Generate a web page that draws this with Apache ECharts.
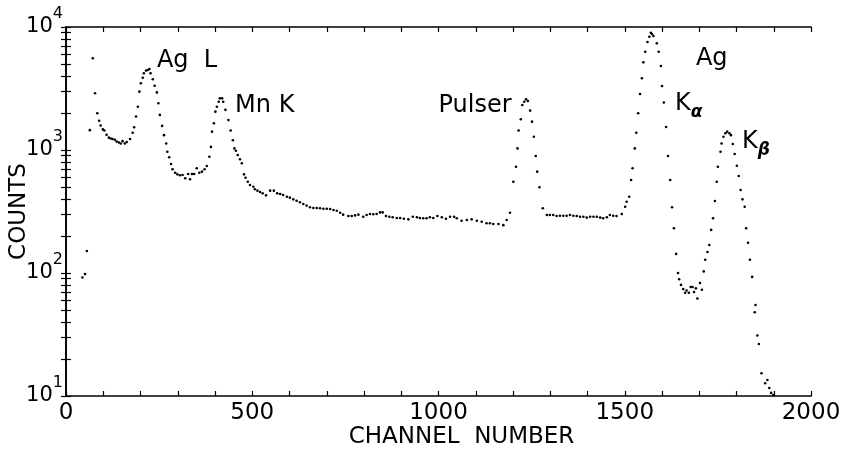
<!DOCTYPE html>
<html>
<head>
<meta charset="utf-8">
<script src="https://cdn.jsdelivr.net/npm/echarts@6/dist/echarts.min.js"></script>
<style>
  html, body { margin: 0; background: #fff; }
  #chart { width: 848px; height: 450px; }
</style>
</head>
<body>
<div id="chart"></div>
<script>
// spectrum: channel number and counts per point
const channel = [44, 51, 56, 64, 72, 78, 84, 89, 93, 99, 103, 109, 115, 120, 125, 131, 136, 142, 147, 152,
  158, 163, 172, 179, 183, 188, 193, 197, 201, 206, 209, 215, 220, 224, 227, 233, 238, 244, 248, 252,
  258, 263, 269, 272, 277, 282, 286, 293, 299, 306, 313, 320, 328, 333, 338, 344, 351, 358, 365, 372,
  378, 385, 389, 392, 397, 401, 405, 410, 413, 419, 422, 428, 436, 442, 448, 452, 456, 461, 467, 472,
  478, 482, 488, 494, 503, 507, 514, 521, 528, 537, 548, 558, 567, 575, 583, 593, 601, 610, 619, 628,
  637, 646, 655, 664, 673, 682, 691, 700, 709, 718, 727, 736, 744, 758, 767, 776, 785, 798, 807, 816,
  825, 834, 843, 850, 859, 868, 877, 888, 897, 907, 919, 931, 942, 950, 959, 968, 977, 986, 997, 1009,
  1020, 1031, 1042, 1049, 1062, 1076, 1089, 1103, 1116, 1129, 1138, 1147, 1161, 1174, 1183, 1192, 1201, 1208, 1212, 1215,
  1221, 1225, 1230, 1235, 1240, 1246, 1251, 1256, 1261, 1265, 1271, 1280, 1291, 1299, 1308, 1317, 1326, 1335, 1344, 1353,
  1362, 1371, 1380, 1389, 1398, 1407, 1416, 1425, 1434, 1442, 1452, 1460, 1469, 1478, 1492, 1501, 1505, 1512, 1517, 1521,
  1527, 1531, 1536, 1541, 1546, 1550, 1555, 1561, 1566, 1570, 1573, 1577, 1586, 1591, 1597, 1600, 1605, 1611, 1616, 1622,
  1627, 1632, 1638, 1643, 1646, 1651, 1657, 1662, 1666, 1672, 1677, 1682, 1686, 1691, 1695, 1702, 1707, 1712, 1716, 1722,
  1727, 1732, 1737, 1742, 1747, 1750, 1757, 1760, 1765, 1770, 1775, 1781, 1785, 1790, 1795, 1801, 1806, 1811, 1816, 1822,
  1826, 1831, 1836, 1842, 1849, 1851, 1856, 1860, 1867, 1877, 1883, 1888, 1893, 1899];
const counts = [92, 98, 151, 1450, 5570, 2890, 1990, 1730, 1580, 1470, 1440, 1330, 1260, 1240, 1230, 1210, 1170, 1150, 1130, 1180,
  1130, 1160, 1230, 1380, 1530, 1870, 2250, 2980, 3490, 3870, 4210, 4420, 4470, 4560, 4210, 3760, 3330, 2940, 2400, 1930,
  1570, 1320, 1130, 968, 873, 769, 697, 654, 634, 623, 626, 589, 638, 578, 638, 638, 710, 654, 667, 697,
  741, 882, 1060, 1410, 1650, 2050, 2250, 2470, 2630, 2630, 2470, 2120, 1750, 1440, 1200, 1030, 986, 911, 840, 780,
  634, 595, 552, 519, 503, 479, 467, 456, 444, 428, 467, 467, 444, 439, 431, 417, 410, 397, 387, 376,
  364, 353, 342, 338, 338, 336, 333, 333, 331, 325, 321, 309, 298, 291, 291, 294, 298, 287, 296, 302,
  300, 302, 311, 311, 291, 287, 284, 280, 280, 276, 273, 287, 284, 280, 279, 279, 284, 280, 291, 284,
  276, 287, 287, 279, 266, 270, 273, 266, 261, 254, 254, 250, 250, 245, 270, 309, 552, 731, 1030, 1440,
  1780, 2320, 2470, 2580, 2500, 2090, 1700, 1280, 894, 667, 498, 336, 296, 296, 296, 291, 292, 292, 292, 296,
  292, 291, 287, 287, 282, 287, 287, 287, 282, 279, 284, 296, 292, 291, 302, 346, 380, 417, 570, 710,
  1030, 1380, 1990, 2850, 3830, 5160, 6300, 7550, 8340, 8990, 8770, 8450, 7360, 6300, 4820, 3310, 2430, 1540, 894, 570,
  342, 231, 143, 100, 89, 80, 74, 69, 72, 69, 77, 77, 70, 75, 62, 83, 73, 103, 128, 148,
  169, 224, 279, 385, 552, 731, 968, 1130, 1280, 1370, 1410, 1370, 1320, 1120, 927, 745, 615, 473, 397, 346,
  231, 176, 128, 93, 48, 55, 31, 26.5, 15.3, 12.7, 13.5, 11.6, 10.6, 10.2];

const xLabelValues = [0, 500, 1000, 1500, 2000];
const yTickValues = [10, 20, 30, 40, 50, 60, 70, 80, 90, 100, 200, 300, 400, 500, 600, 700, 800, 900,
  1000, 2000, 3000, 4000, 5000, 6000, 7000, 8000, 9000, 10000];

const peakNames = ['Ag  L', 'Mn K', 'Pulser', 'Ag', '{k|K}{g|α}', '{k|K}{g|β}'];
const peakChannel = [244, 454, 1000, 1691, 1635, 1815];
const peakCounts = [5300, 2280, 2280, 5500, 2370, 1160];

const font = 'DejaVu Sans';
const ink = '#000';

const chart = echarts.init(document.getElementById('chart'));

const lineStyle = { color: ink, width: 1.6 };
const tickStyle = { inside: true, length: 5, lineStyle: { color: ink, width: 1.2 } };

const option = {
  animation: false,
  grid: { left: 66, right: 37, top: 27, bottom: 54, containLabel: false, outerBoundsMode: 'none' },
  xAxis: [
    {
      type: 'value', min: 0, max: 2000, interval: 100, position: 'bottom',
      name: 'CHANNEL  NUMBER', nameLocation: 'middle', nameGap: 30, nameMoveOverlap: false,
      nameTextStyle: { fontFamily: font, fontSize: 23, color: ink, padding: [0, 0, 0, 46] },
      axisLine: { lineStyle },
      axisTick: tickStyle,
      splitLine: { show: false },
      axisLabel: {
        margin: 6, fontFamily: font, fontSize: 23, color: ink,
        formatter: v => xLabelValues.includes(v) ? String(v) : ''
      }
    },
    {
      type: 'value', min: 0, max: 2000, interval: 100, position: 'top',
      axisLine: { lineStyle },
      axisTick: tickStyle,
      splitLine: { show: false },
      axisLabel: { show: false }
    }
  ],
  yAxis: [
    {
      type: 'log', logBase: 10, min: 10, max: 10000, position: 'left',
      name: 'COUNTS', nameLocation: 'middle', nameGap: 35, nameRotate: 90, nameMoveOverlap: false,
      nameTextStyle: { fontFamily: font, fontSize: 23, color: ink },
      axisLine: { lineStyle },
      axisTick: Object.assign({ customValues: yTickValues }, tickStyle),
      splitLine: { show: false },
      axisLabel: {
        margin: 3, color: ink,
        formatter: v => '{b|10}{s|' + Math.round(Math.log10(v)) + '}',
        rich: {
          b: { fontFamily: font, fontSize: 21, color: ink, lineHeight: 22, padding: [12, 0, 12, 0] },
          s: { fontFamily: font, fontSize: 16, color: ink, lineHeight: 22, padding: [0, 0, 26, 0] }
        }
      }
    },
    {
      type: 'log', logBase: 10, min: 10, max: 10000, position: 'right',
      axisLine: { lineStyle },
      axisTick: Object.assign({ customValues: yTickValues }, tickStyle),
      splitLine: { show: false },
      axisLabel: { show: false }
    }
  ],
  series: [
    {
      type: 'scatter',
      data: channel.map((c, i) => [c, counts[i]]),
      symbolSize: 2.6,
      itemStyle: { color: ink, opacity: 1 },
      silent: true
    },
    {
      type: 'scatter',
      data: peakNames.map((n, i) => ({ value: [peakChannel[i], peakCounts[i]], label: { formatter: n } })),
      symbolSize: 0,
      silent: true,
      itemStyle: { opacity: 1 },
      label: {
        show: true, position: 'right', distance: 0,
        fontFamily: font, fontSize: 24, color: ink,
        rich: {
          k: { fontFamily: font, fontSize: 24, color: ink, lineHeight: 26 },
          g: { fontFamily: font, fontSize: 17, fontStyle: 'italic', fontWeight: 'bold', color: ink, lineHeight: 18, padding: [18, 0, 0, 0] }
        }
      }
    }
  ]
};

chart.setOption(option);
</script>
</body>
</html>
